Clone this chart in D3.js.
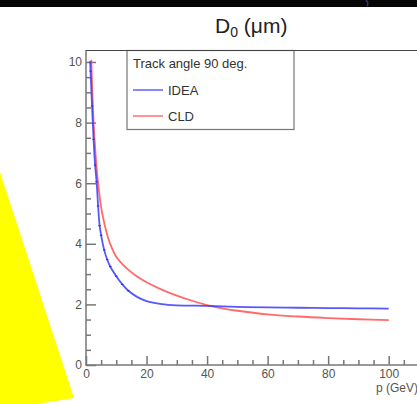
<!DOCTYPE html>
<html>
<head>
<meta charset="utf-8">
<script src="https://cdn.jsdelivr.net/npm/d3@7"></script>
<style>
html,body{margin:0;padding:0;background:#fff;}
svg{display:block;font-family:"Liberation Sans",Arial,sans-serif;}
</style>
</head>
<body>
<svg id="c" width="417" height="404"></svg>
<script>
// ---- data ----
const ideaP = [1.4, 1.5, 2, 2.5, 3, 3.5, 4, 4.5, 5, 6, 7, 8, 10, 12, 14, 17, 20, 25, 30, 40, 50, 60, 70, 80, 90, 100];
const ideaV = [10.0, 9.7, 8.55, 7.45, 6.6, 6.05, 5.25, 4.6, 4.28, 3.8, 3.48, 3.25, 2.93, 2.66, 2.45, 2.24, 2.11, 2.01, 1.97, 1.95, 1.92, 1.90, 1.89, 1.88, 1.87, 1.86];
const cldP  = [1.75, 2, 2.5, 3, 3.5, 4, 5, 6, 7, 8, 10, 12, 14, 17, 20, 25, 30, 35, 40, 45, 50, 60, 70, 80, 90, 100];
const cldV  = [10.07, 9.3, 8.0, 7.2, 6.5, 6.0, 5.2, 4.7, 4.3, 4.0, 3.57, 3.33, 3.14, 2.91, 2.73, 2.49, 2.29, 2.12, 1.98, 1.87, 1.79, 1.67, 1.6, 1.55, 1.51, 1.48];
const xMajor = [0, 20, 40, 60, 80, 100];
const yMajor = [0, 2, 4, 6, 8, 10];
const titleMain = "D", titleSub = "0", titleRest = " (\u03bcm)";
const xTitle = "p (GeV)";
const legendHeader = "Track angle 90 deg.";
const seriesNames = ["IDEA", "CLD"];

const svg = d3.select("#c");

// background decorations
svg.append("rect").attr("x",0).attr("y",0).attr("width",417).attr("height",7).attr("fill","#050505");
svg.append("path").attr("d","M366,0 Q369,3 367,6").attr("stroke","#2a3a6a").attr("stroke-width",1.5).attr("fill","none");
svg.append("polygon").attr("points","0,172 74,398 0,410").attr("fill","#ffff00");

const x = d3.scaleLinear().domain([0,100]).range([86, 388.7]);
const y = d3.scaleLinear().domain([0,10]).range([365, 62]);

const axColor = "#777";
// x axis
const xMinorVals = d3.range(0, 110, 5).filter(v => v % 20 !== 0);
const gx = svg.append("g").attr("transform","translate(0,365)");
gx.call(d3.axisBottom(x).tickValues(xMajor).tickSize(-9).tickPadding(4).tickFormat(d3.format("d")));
gx.append("g").call(d3.axisBottom(x).tickValues(xMinorVals).tickSize(-5).tickFormat(""));
gx.selectAll(".domain").remove();
gx.selectAll("line").attr("stroke",axColor).attr("stroke-width",1.5);
gx.selectAll("text").attr("fill","#555").attr("font-size",12).attr("font-family","Liberation Sans, Arial, sans-serif").attr("dy","0.35em").attr("y",9);
svg.append("line").attr("x1",86).attr("x2",417).attr("y1",365).attr("y2",365).attr("stroke",axColor).attr("stroke-width",1.5);

// y axis
const yMinorVals = d3.range(0, 10.01, 0.5).filter(v => v % 2 !== 0);
const gy = svg.append("g").attr("transform","translate(86,0)");
gy.call(d3.axisLeft(y).tickValues(yMajor).tickSize(-10).tickPadding(4).tickFormat(d3.format("d")));
gy.append("g").call(d3.axisLeft(y).tickValues(yMinorVals).tickSize(-5).tickFormat(""));
gy.selectAll(".domain").remove();
gy.selectAll("line").attr("stroke",axColor).attr("stroke-width",1.5);
gy.selectAll("text").attr("fill","#555").attr("font-size",12).attr("font-family","Liberation Sans, Arial, sans-serif");
svg.append("line").attr("x1",86).attr("x2",86).attr("y1",50).attr("y2",365.7).attr("stroke",axColor).attr("stroke-width",1.5);

// curves
const line = d3.line().x(d => x(d[0])).y(d => y(d[1])).curve(d3.curveCatmullRom.alpha(0.5));
const cld = cldP.map((p,i) => [p, cldV[i]]);
const idea = ideaP.map((p,i) => [p, ideaV[i]]);
const blue = "#3a3aff", red = "#ff5a5a";
svg.append("path").datum(cld).attr("d",line).attr("fill","none").attr("stroke",red).attr("stroke-width",1.8).attr("stroke-opacity",0.9);
svg.append("path").datum(idea).attr("d",line).attr("fill","none").attr("stroke",blue).attr("stroke-width",1.8).attr("stroke-opacity",0.85);
svg.selectAll(".mk").data(idea.filter(d => d[0] <= 14)).enter().append("rect")
  .attr("x", d => x(d[0]) - 1.2).attr("y", d => y(d[1]) - 0.6).attr("width",2.4).attr("height",1.2).attr("fill","#3030f0");

// x title
svg.append("text").attr("x",376).attr("y",392).attr("font-size",12).attr("fill","#555").text(xTitle);

// title
const t = svg.append("text").attr("x",215).attr("y",33).attr("font-size",21).attr("fill","#222");
t.append("tspan").text(titleMain);
t.append("tspan").attr("font-size",14).attr("dy",4).text(titleSub);
t.append("tspan").attr("dy",-4).text(titleRest);

// legend
const lg = svg.append("g");
lg.append("rect").attr("x",127).attr("y",50.5).attr("width",167).attr("height",79).attr("fill","#fff").attr("stroke","#777").attr("stroke-width",1.2);
svg.append("line").attr("x1",86).attr("x2",417).attr("y1",50.5).attr("y2",50.5).attr("stroke","#444").attr("stroke-width",1.2);
lg.append("text").attr("x",133).attr("y",67.5).attr("font-size",13).attr("fill","#333").text(legendHeader);
const lcols = ["#6a6aff", "#ff7a7a"];
const ly = [90, 116];
seriesNames.forEach((n,i) => {
  lg.append("line").attr("x1",133).attr("x2",163).attr("y1",ly[i]).attr("y2",ly[i]).attr("stroke",lcols[i]).attr("stroke-width",1.6);
  lg.append("text").attr("x",168).attr("y",ly[i]+5).attr("font-size",13).attr("fill","#333").text(n);
});
</script>
</body>
</html>
